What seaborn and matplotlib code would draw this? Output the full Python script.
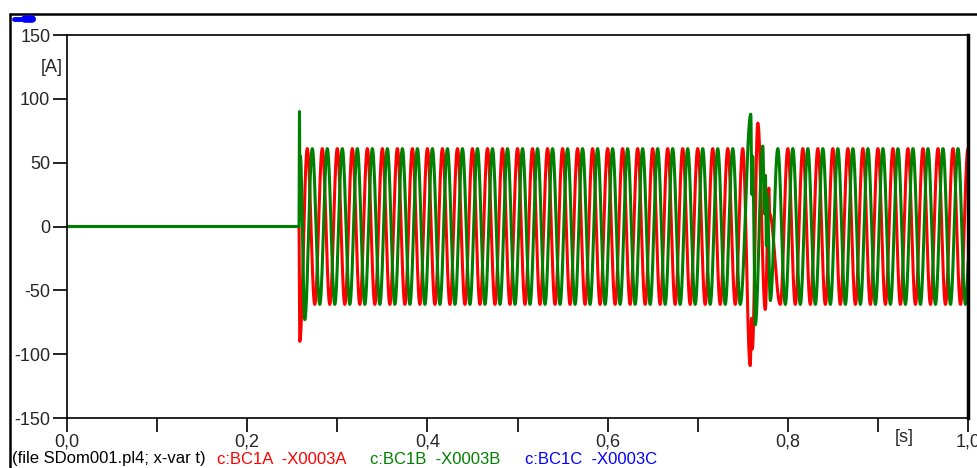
import numpy as np
import pandas as pd
import seaborn as sns
import matplotlib.pyplot as plt
from matplotlib.lines import Line2D

# ---- values ----
freq_hz = 60.0          # supply frequency
amp = 61.0              # steady-state peak current [A]
t_on = 0.2575           # switching instant [s]
lag_b = 1.0 / 180.0     # phase B lags phase A by 1/3 period
t_stop = 1.0

# half-cycle extremes that differ from the steady state (time [s], value [A])
red_fix_t = [0.2583, 0.7583, 0.7598, 0.7606, 0.7667, 0.7750, 0.7790, 0.7798]
red_fix_v = [-90.0, -109.0, -72.0, -96.0, 81.0, -65.0, 30.0, 10.0]
green_fix_t = [0.2580, 0.2586, 0.2590, 0.2639, 0.7589, 0.7602, 0.7610,
               0.7639, 0.7722, 0.7742, 0.7752, 0.7762, 0.7772, 0.7806]
green_fix_v = [90.0, 5.0, 55.0, -73.0, 88.0, 25.0, 55.0,
               -77.0, 63.0, 10.0, 40.0, -15.0, 25.0, -58.0]

y_ticks = [-150, -100, -50, 0, 50, 100, 150]
x_ticks = [0.0, 0.2, 0.4, 0.6, 0.8, 1.0]
x_labels = ["0,0", "0,2", "0,4", "0,6", "0,8", "1,0"]
legend_items = ["c:BC1A  -X0003A", "c:BC1B  -X0003B", "c:BC1C  -X0003C"]
legend_colors = ["#ff0000", "#008000", "#0000ff"]


def extremes(offset, fix_t, fix_v):
    half = 0.5 / freq_hz
    k0 = int(np.ceil((t_on - offset) / half))
    k1 = int(np.ceil((t_stop - offset) / half)) + 1
    pts = {}
    for k in range(k0, k1):
        pts[k * half + offset] = amp if k % 2 == 0 else -amp
    for t, v in zip(fix_t, fix_v):
        near = [tk for tk in pts if abs(tk - t) < 0.004 and tk not in fix_t]
        for tk in near:
            del pts[tk]
        pts[t] = v
    ts = sorted(pts)
    return [0.0, t_on] + ts, [0.0, 0.0] + [pts[t] for t in ts]


def wave(ts, vs, n=40):
    tt, vv = [], []
    for (ta, va, tb, vb) in zip(ts[:-1], vs[:-1], ts[1:], vs[1:]):
        s = np.linspace(0, 1, n, endpoint=False)
        tt.append(ta + (tb - ta) * s)
        vv.append((va + vb) / 2 + (va - vb) / 2 * np.cos(np.pi * s))
    return np.concatenate(tt), np.concatenate(vv)


ra_t, ra_v = wave(*extremes(0.0, red_fix_t, red_fix_v))
gb_t, gb_v = wave(*extremes(lag_b, green_fix_t, green_fix_v))
df_a = pd.DataFrame({"t": ra_t, "i": ra_v})
df_b = pd.DataFrame({"t": gb_t, "i": gb_v})

sns.set_style("white")
plt.rcParams["font.family"] = ["Liberation Sans", "DejaVu Sans"]

fig = plt.figure(figsize=(9.77, 4.68), dpi=100)
ax = fig.add_axes([67 / 977, 1 - 418 / 468, 901 / 977, 383 / 468])

sns.lineplot(data=df_a, x="t", y="i", color="#ff0000", lw=2.2,
             estimator=None, sort=False, ax=ax)
sns.lineplot(data=df_b, x="t", y="i", color="#008000", lw=2.2,
             estimator=None, sort=False, ax=ax)

ax.set_xlim(0, 1.0)
ax.set_ylim(-150, 150)
ax.set_xlabel("")
ax.set_ylabel("")
ax.set_yticks(y_ticks)
ax.set_yticklabels([str(v) for v in y_ticks])
ax.set_xticks(x_ticks)
ax.set_xticklabels(x_labels)
ax.set_xticks([0.1, 0.3, 0.5, 0.7, 0.9], minor=True)
ax.tick_params(axis="both", which="both", direction="out", length=10,
               width=1.2, color="black", labelsize=13, pad=2, bottom=True, left=True)
ax.tick_params(axis="x", pad=1)
for side in ["left", "bottom", "top"]:
    ax.spines[side].set_color("black")
    ax.spines[side].set_linewidth(1.2)
ax.spines["right"].set_color("black")
ax.spines["right"].set_linewidth(2.5)

fig.text(63 / 977, 1 - 68 / 468, "[A]", ha="right", va="center", fontsize=13)
fig.text(904 / 977, 1 - 438 / 468, "[s]", ha="center", va="center", fontsize=13)

# legend line at the bottom
fig.text(12 / 977, 1 - 459 / 468, "(file SDom001.pl4; x-var t)", ha="left",
         va="center", fontsize=12, color="black")
for xp, lab, col in zip([217, 370, 525], legend_items, legend_colors):
    fig.text(xp / 977, 1 - 459 / 468, lab, ha="left", va="center",
             fontsize=12, color=col)

# outer frame and the small blue marker at top left
fig.add_artist(Line2D([10 / 977, 1.0], [1 - 14 / 468, 1 - 14 / 468],
                      transform=fig.transFigure, color="black", lw=1.8))
fig.add_artist(Line2D([10 / 977, 10 / 977], [0.0, 1 - 14 / 468],
                      transform=fig.transFigure, color="black", lw=1.8))
fig.add_artist(Line2D([14 / 977, 33 / 977], [1 - 19 / 468, 1 - 19 / 468],
                      transform=fig.transFigure, color="#0000ff", lw=3.5,
                      solid_capstyle="round"))
fig.add_artist(Line2D([25 / 977, 32 / 977], [1 - 19 / 468, 1 - 19 / 468],
                      transform=fig.transFigure, color="#0000ff", lw=5.5,
                      solid_capstyle="round"))

fig.savefig("out.png", dpi=100)
